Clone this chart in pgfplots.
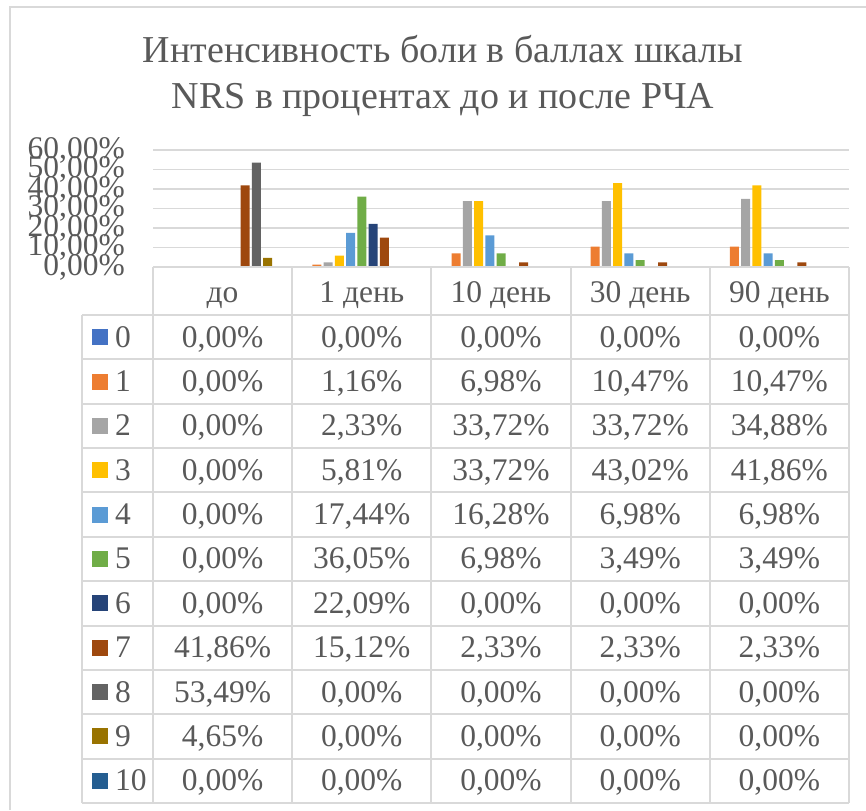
\documentclass[border=0pt]{standalone}
\usepackage{pgfplots}
\pgfplotsset{compat=1.18}
\usepackage{fontspec}
\setmainfont{Liberation Serif}
\definecolor{c0}{HTML}{4472C4}
\definecolor{c1}{HTML}{ED7D31}
\definecolor{c2}{HTML}{A5A5A5}
\definecolor{c3}{HTML}{FFC000}
\definecolor{c4}{HTML}{5B9BD5}
\definecolor{c5}{HTML}{70AD47}
\definecolor{c6}{HTML}{264478}
\definecolor{c7}{HTML}{9E480E}
\definecolor{c8}{HTML}{636363}
\definecolor{c9}{HTML}{997300}
\definecolor{c10}{HTML}{255E91}
\definecolor{txt}{HTML}{595959}
\definecolor{grd}{HTML}{D9D9D9}
\newcommand{\tabrow}[8]{%
  \pgfmathsetmacro{\rc}{315+44.36*#1+22.18}%
  \fill[#2] (92,{-\rc-8}) rectangle (108,{-\rc+8});
  \node[anchor=base west, inner sep=0pt] at (115,{-\rc-10}) {#3};
  \node[anchor=base, inner sep=0pt] at (222.6,{-\rc-10}) {#4};
  \node[anchor=base, inner sep=0pt] at (361.8,{-\rc-10}) {#5};
  \node[anchor=base, inner sep=0pt] at (501.0,{-\rc-10}) {#6};
  \node[anchor=base, inner sep=0pt] at (640.2,{-\rc-10}) {#7};
  \node[anchor=base, inner sep=0pt] at (779.4,{-\rc-10}) {#8};
}
\begin{document}
\begin{tikzpicture}[x=1pt,y=1pt]
\useasboundingbox (0,0) rectangle (866,-810);
\draw[grd, line width=1.5pt] (10,-810) -- (10,-7) -- (866,-7);
\node[text=txt, anchor=base, inner sep=0pt, font=\fontsize{38}{45}\selectfont] at (443,-63) {Интенсивность боли в баллах шкалы};
\node[text=txt, anchor=base, inner sep=0pt, font=\fontsize{38}{45}\selectfont] at (443,-109) {NRS в процентах до и после РЧА};
\begin{axis}[
  at={(153pt,-267pt)}, anchor=south west, scale only axis,
  width=696pt, height=117pt,
  xmin=-0.5, xmax=4.5, ymin=0, ymax=60,
  ybar=2.25pt, bar width=9pt,
  axis line style={draw=none},
  xtick=\empty,
  ytick={0,10,20,30,40,50,60},
  yticklabels={{0,00\%},{10,00\%},{20,00\%},{30,00\%},{40,00\%},{50,00\%},{60,00\%}},
  yticklabel style={anchor=east, inner sep=0pt, xshift=-28pt, text=txt, font=\fontsize{31.5}{36}\selectfont},
  major tick length=0pt,
  ymajorgrids, major grid style={grd, line width=1.5pt},
  clip=false,
]
\addplot[fill=c0, draw=none] coordinates {(0,0) (1,0) (2,0) (3,0) (4,0)};
\addplot[fill=c1, draw=none] coordinates {(0,0) (1,1.16) (2,6.98) (3,10.47) (4,10.47)};
\addplot[fill=c2, draw=none] coordinates {(0,0) (1,2.33) (2,33.72) (3,33.72) (4,34.88)};
\addplot[fill=c3, draw=none] coordinates {(0,0) (1,5.81) (2,33.72) (3,43.02) (4,41.86)};
\addplot[fill=c4, draw=none] coordinates {(0,0) (1,17.44) (2,16.28) (3,6.98) (4,6.98)};
\addplot[fill=c5, draw=none] coordinates {(0,0) (1,36.05) (2,6.98) (3,3.49) (4,3.49)};
\addplot[fill=c6, draw=none] coordinates {(0,0) (1,22.09) (2,0) (3,0) (4,0)};
\addplot[fill=c7, draw=none] coordinates {(0,41.86) (1,15.12) (2,2.33) (3,2.33) (4,2.33)};
\addplot[fill=c8, draw=none] coordinates {(0,53.49) (1,0) (2,0) (3,0) (4,0)};
\addplot[fill=c9, draw=none] coordinates {(0,4.65) (1,0) (2,0) (3,0) (4,0)};
\addplot[fill=c10, draw=none] coordinates {(0,0) (1,0) (2,0) (3,0) (4,0)};
\end{axis}
% data table
\begin{scope}[grd, line width=2pt]
  \draw (82,-315) -- (82,-803);
  \foreach \x in {153,292.2,431.4,570.6,709.8,849} {\draw (\x,-267) -- (\x,-803);}
  \draw (153,-267) -- (849,-267);
  \foreach \k in {0,...,11} {\draw (82,{-315-44.36*\k}) -- (849,{-315-44.36*\k});}
\end{scope}
\begin{scope}[text=txt, font=\fontsize{31.5}{36}\selectfont]
  \node[anchor=base, inner sep=0pt] at (222.6,-302) {до};
  \node[anchor=base, inner sep=0pt] at (361.8,-302) {1 день};
  \node[anchor=base, inner sep=0pt] at (501.0,-302) {10 день};
  \node[anchor=base, inner sep=0pt] at (640.2,-302) {30 день};
  \node[anchor=base, inner sep=0pt] at (779.4,-302) {90 день};
  \tabrow{0}{c0}{0}{0,00\%}{0,00\%}{0,00\%}{0,00\%}{0,00\%}
  \tabrow{1}{c1}{1}{0,00\%}{1,16\%}{6,98\%}{10,47\%}{10,47\%}
  \tabrow{2}{c2}{2}{0,00\%}{2,33\%}{33,72\%}{33,72\%}{34,88\%}
  \tabrow{3}{c3}{3}{0,00\%}{5,81\%}{33,72\%}{43,02\%}{41,86\%}
  \tabrow{4}{c4}{4}{0,00\%}{17,44\%}{16,28\%}{6,98\%}{6,98\%}
  \tabrow{5}{c5}{5}{0,00\%}{36,05\%}{6,98\%}{3,49\%}{3,49\%}
  \tabrow{6}{c6}{6}{0,00\%}{22,09\%}{0,00\%}{0,00\%}{0,00\%}
  \tabrow{7}{c7}{7}{41,86\%}{15,12\%}{2,33\%}{2,33\%}{2,33\%}
  \tabrow{8}{c8}{8}{53,49\%}{0,00\%}{0,00\%}{0,00\%}{0,00\%}
  \tabrow{9}{c9}{9}{4,65\%}{0,00\%}{0,00\%}{0,00\%}{0,00\%}
  \tabrow{10}{c10}{10}{0,00\%}{0,00\%}{0,00\%}{0,00\%}{0,00\%}
\end{scope}
\end{tikzpicture}
\end{document}
